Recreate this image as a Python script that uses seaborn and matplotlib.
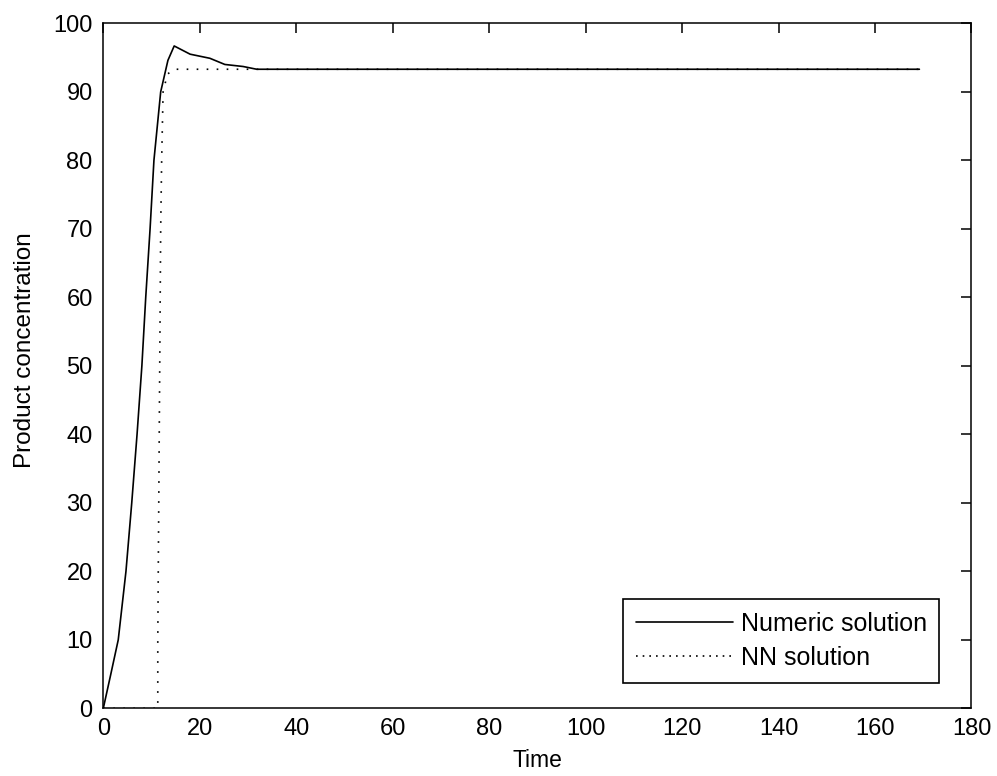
import matplotlib
matplotlib.use("Agg")
import matplotlib.pyplot as plt
import seaborn as sns
import pandas as pd

# Data
numeric_t = [0, 1.5, 3.1, 4.7, 5.9, 7.0, 8.0, 8.8, 9.7, 10.5, 11.9, 13.4, 14.7, 18.0, 22.1, 25.2, 29.0, 31.8, 169.2]
numeric_v = [0, 4.8, 10, 20, 30, 40, 50, 60, 70, 80, 90, 94.6, 96.7, 95.5, 94.9, 94.0, 93.7, 93.3, 93.3]
nn_t = [0, 11.3, 11.3, 11.6, 11.9, 12.1, 12.4, 13.3, 14.8, 169.2]
nn_v = [0, 0, 10, 40, 70, 80, 90, 92.6, 93.3, 93.3]
labels = ["Numeric solution", "NN solution"]
x_ticks = list(range(0, 181, 20))
y_ticks = list(range(0, 101, 10))

sns.set_style("white")
plt.rcParams["font.family"] = ["Liberation Sans", "DejaVu Sans"]
plt.rcParams["text.color"] = "black"
plt.rcParams["axes.labelcolor"] = "black"
plt.rcParams["xtick.color"] = "black"
plt.rcParams["ytick.color"] = "black"

df = pd.concat([
    pd.DataFrame({"Time": numeric_t, "value": numeric_v, "series": labels[0]}),
    pd.DataFrame({"Time": nn_t, "value": nn_v, "series": labels[1]}),
])

fig = plt.figure(figsize=(9.97, 7.76), dpi=100)
ax = fig.add_axes([0.1036, 0.0872, 0.8708, 0.8827])

sns.lineplot(data=df, x="Time", y="value", hue="series", style="series",
             palette={labels[0]: "black", labels[1]: "black"},
             dashes={labels[0]: "", labels[1]: (1, 5)},
             sort=False, estimator=None, linewidth=1.2, ax=ax, legend=False)

h1, = ax.plot([], [], color="black", lw=1.2, linestyle="-")
h2, = ax.plot([], [], color="black", lw=1.2, linestyle=(0, (1, 3)))
leg = ax.legend([h1, h2], labels, loc="lower right", bbox_to_anchor=(0.963, 0.0374),
                borderaxespad=0, fancybox=False, frameon=True, edgecolor="black",
                framealpha=1, handlelength=3.9, handletextpad=0.3, fontsize=18,
                borderpad=0.5, labelspacing=0.42)
leg.get_frame().set_linewidth(1.2)

ax.set_xlim(0, 180)
ax.set_ylim(0, 100)
ax.set_xticks(x_ticks)
ax.set_yticks(y_ticks)
ax.tick_params(axis="both", direction="in", length=7, width=1.1, top=True, right=True,
               labelsize=17, colors="black")
ax.tick_params(axis="x", pad=7)
ax.tick_params(axis="y", pad=7.6)
for s in ax.spines.values():
    s.set_visible(True)
    s.set_color("black")
    s.set_linewidth(1.1)

ax.set_xlabel("Time", fontsize=16.5)
ax.set_ylabel("Product concentration", fontsize=17.5)
ax.xaxis.set_label_coords(0.5, -0.06)
ax.yaxis.set_label_coords(-0.077, 0.523)

fig.savefig("out.png", dpi=100, facecolor="white")
